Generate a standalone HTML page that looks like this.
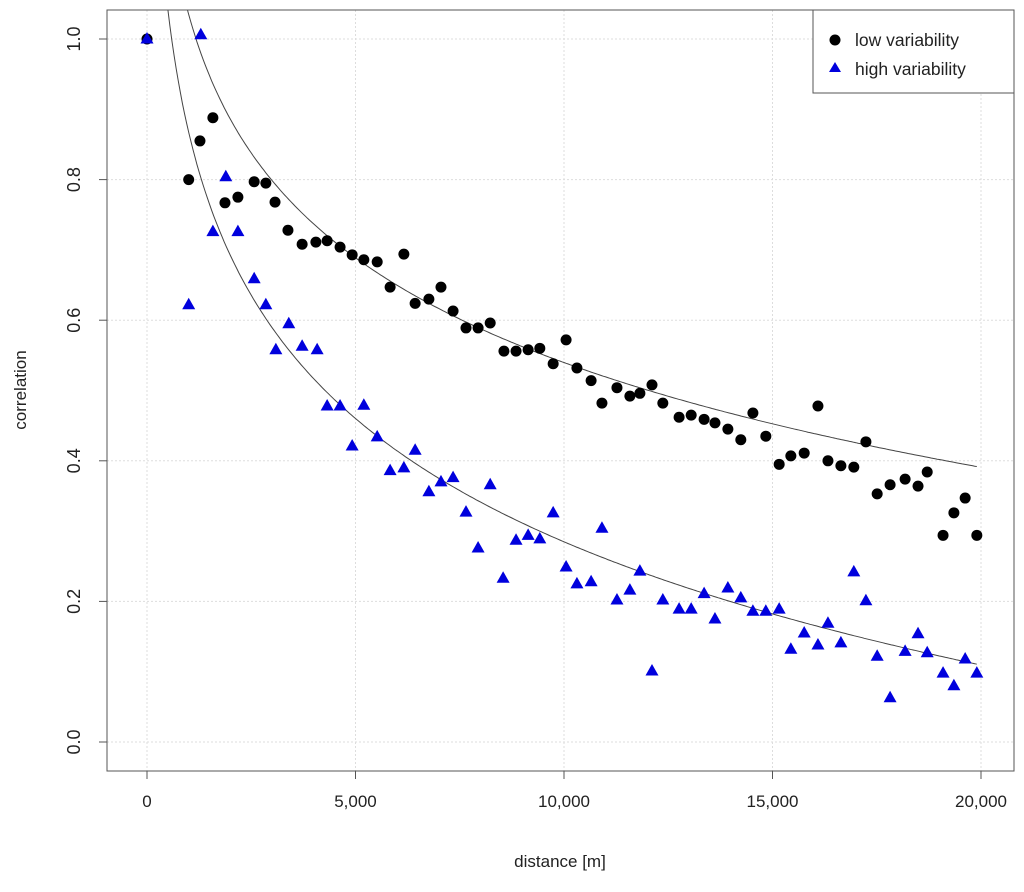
<!DOCTYPE html>
<html><head><meta charset="utf-8"><style>
body{margin:0;background:#fff;}
svg text{font-family:"Liberation Sans",Arial,sans-serif;fill:#222;}
</style></head><body>
<svg id="chart" width="1024" height="887" viewBox="0 0 1024 887" xmlns="http://www.w3.org/2000/svg">
<defs><clipPath id="clip"><rect x="107" y="10" width="907" height="761"/></clipPath></defs>
<g id="grid"></g>
<g id="axes"></g>
<g id="curves" clip-path="url(#clip)"></g>
<g id="marks"></g>
<rect x="107" y="10" width="907" height="761" fill="none" stroke="#555" stroke-width="1"/>
<text x="560" y="867" font-size="17" text-anchor="middle">distance [m]</text>
<text x="0" y="0" font-size="17" text-anchor="middle" transform="translate(26,390) rotate(-90)">correlation</text>
<g>
<rect x="813" y="10" width="201" height="83" fill="#fff" stroke="#555"/>
<g>
<circle cx="835" cy="40" r="5.5" fill="#000"/>
<text x="855" y="46" font-size="17.5">low variability</text></g>
<g>
<polygon points="835,62 841,72 829,72" fill="#0000dd"/>
<text x="855" y="75" font-size="17.5">high variability</text></g>
</g>
</svg>
<script>
const lowX=[0,1000,1270,1580,1870,2180,2570,2850,3070,3380,3720,4050,4320,4630,4920,5200,5520,5830,6160,6430,6760,7050,7340,7650,7940,8230,8560,8850,9140,9420,9740,10050,10310,10650,10910,11270,11580,11820,12110,12370,12760,13050,13360,13620,13930,14240,14530,14840,15160,15440,15760,16090,16330,16640,16950,17240,17510,17820,18180,18490,18710,19090,19350,19620,19900];
const lowY=[1.0,0.80,0.855,0.888,0.767,0.775,0.797,0.795,0.768,0.728,0.708,0.711,0.713,0.704,0.693,0.686,0.683,0.647,0.694,0.624,0.63,0.647,0.613,0.589,0.589,0.596,0.556,0.556,0.558,0.56,0.538,0.572,0.532,0.514,0.482,0.504,0.492,0.496,0.508,0.482,0.462,0.465,0.459,0.454,0.445,0.43,0.468,0.435,0.395,0.407,0.411,0.478,0.4,0.393,0.391,0.427,0.353,0.366,0.374,0.364,0.384,0.294,0.326,0.347,0.294];
const highX=[0,1000,1290,1580,1890,2180,2570,2850,3090,3400,3720,4080,4320,4630,4920,5200,5520,5830,6160,6430,6760,7050,7340,7650,7940,8230,8540,8850,9140,9420,9740,10050,10310,10650,10910,11270,11580,11820,12110,12370,12760,13050,13360,13620,13930,14240,14530,14840,15160,15440,15760,16090,16330,16640,16950,17240,17510,17820,18180,18490,18710,19090,19350,19620,19900];
const highY=[1.0,0.622,1.006,0.726,0.804,0.726,0.659,0.622,0.558,0.595,0.563,0.558,0.478,0.478,0.421,0.479,0.434,0.386,0.39,0.415,0.356,0.37,0.376,0.327,0.276,0.366,0.233,0.287,0.294,0.289,0.326,0.249,0.225,0.228,0.304,0.202,0.216,0.243,0.101,0.202,0.189,0.189,0.211,0.175,0.219,0.205,0.186,0.186,0.189,0.132,0.155,0.138,0.169,0.141,0.242,0.201,0.122,0.063,0.129,0.154,0.127,0.098,0.08,0.118,0.098];
const xTicks=[0,5000,10000,15000,20000];
const xTickLabels=["0","5,000","10,000","15,000","20,000"];
const yTicks=[0,0.2,0.4,0.6,0.8,1.0];
const yTickLabels=["0.0","0.2","0.4","0.6","0.8","1.0"];
const lowFit=[2.52,0.215];
const highFit=[2.615,0.253];
const NS="http://www.w3.org/2000/svg";
const sx=v=>147+v*(834/20000);
const sy=v=>742-v*703;
function mk(t,a,p){const e=document.createElementNS(NS,t);for(const k in a)e.setAttribute(k,a[k]);p.appendChild(e);return e;}
const grid=document.getElementById('grid'),axes=document.getElementById('axes'),curves=document.getElementById('curves'),marks=document.getElementById('marks');
xTicks.forEach((v,i)=>{
 const g=mk('line',{x1:sx(v),x2:sx(v),y1:10,y2:771,stroke:'#ddd','stroke-dasharray':'2,2'},grid);
 
 
 const t=mk('line',{x1:sx(v),x2:sx(v),y1:771,y2:779,stroke:'#555'},axes);
 
 
 const l=mk('text',{x:sx(v),y:807,'font-size':17,'text-anchor':'middle'},axes);
 l.textContent=xTickLabels[i];
 
 
});
yTicks.forEach((v,i)=>{
 const g=mk('line',{x1:107,x2:1014,y1:sy(v),y2:sy(v),stroke:'#ddd','stroke-dasharray':'2,2'},grid);
 
 
 const t=mk('line',{x1:99,x2:107,y1:sy(v),y2:sy(v),stroke:'#555'},axes);
 
 
 const l=mk('text',{x:0,y:0,'font-size':18,'text-anchor':'middle',transform:`translate(80,${sy(v)}) rotate(-90)`},axes);
 l.textContent=yTickLabels[i];
 
 
});
[[lowFit,'low-fit-curve'],[highFit,'high-fit-curve']].forEach(([f,n])=>{
 let d='';
 for(let x=200;x<=19900;x+=50){const y=f[0]-f[1]*Math.log(x);d+=(d?'L':'M')+sx(x).toFixed(1)+','+sy(y).toFixed(1);}
 const p=mk('path',{d:d,fill:'none',stroke:'#444','stroke-width':1},curves);
 
 
});
lowX.forEach((x,i)=>{
 const c=mk('circle',{cx:sx(x),cy:sy(lowY[i]),r:5.5,fill:'#000'},marks);
 
 
});
highX.forEach((x,i)=>{
 const cx=sx(x),cy=sy(highY[i]);
 const p=mk('polygon',{points:`${cx},${cy-7} ${cx+6.5},${cy+4.5} ${cx-6.5},${cy+4.5}`,fill:'#0000dd'},marks);
 
 
});
</script>
</body></html>
